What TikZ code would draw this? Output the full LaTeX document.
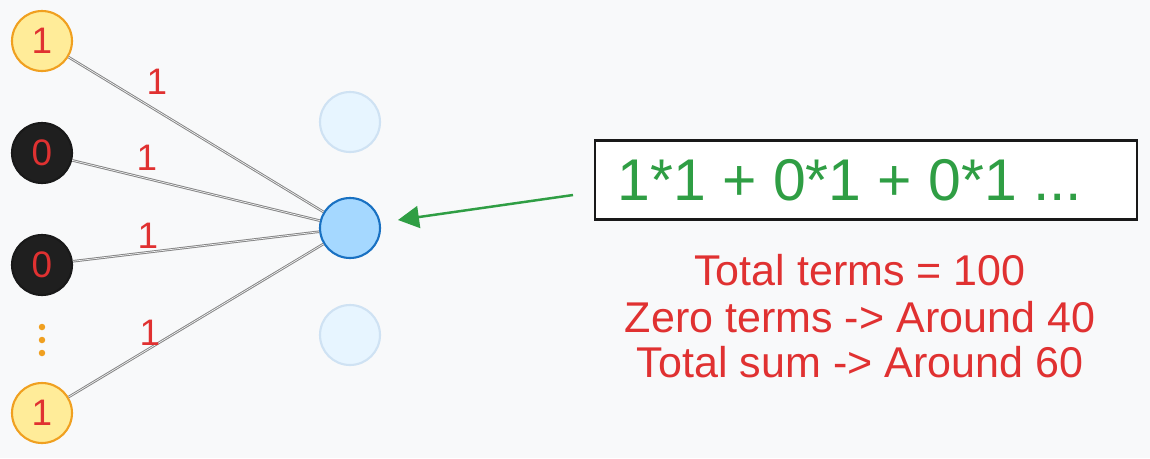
\documentclass[tikz,border=0pt]{standalone}
\usepackage{fontspec}
\setmainfont{Liberation Sans}
\usetikzlibrary{arrows.meta}
\definecolor{bg}{HTML}{F8F9FA}
\definecolor{exred}{HTML}{E03131}
\definecolor{exgreen}{HTML}{2F9E44}
\definecolor{yfill}{HTML}{FFEC99}
\definecolor{ystroke}{HTML}{F0A020}
\definecolor{bfill}{HTML}{A5D8FF}
\definecolor{bstroke}{HTML}{1971C2}
\definecolor{ffill}{HTML}{E7F5FF}
\definecolor{fstroke}{HTML}{CFE2F3}
\definecolor{edgegray}{HTML}{858585}
\begin{document}
\begin{tikzpicture}[x=0.02cm,y=-0.02cm,
  neuron/.style={circle,minimum size=1.2cm,inner sep=0pt,line width=1.2pt,font=\fontsize{21}{21}\selectfont,text=exred},
  onenode/.style={neuron,draw=ystroke,fill=yfill},
  zeronode/.style={neuron,draw=black!90,fill=black!88},
  activenode/.style={neuron,draw=bstroke,fill=bfill},
  faintnode/.style={neuron,draw=fstroke,fill=ffill},
  wire/.style={draw=edgegray,line width=0.55pt,double=bg,double distance=0.35pt},
  wlabel/.style={text=exred,font=\fontsize{21}{21}\selectfont},
  dotstyle/.style={circle,fill=ystroke,inner sep=0pt,minimum size=0.13cm},
  redline/.style={text=exred,font=\fontsize{24.5}{24.5}\selectfont},
]
\fill[bg] (0,0) rectangle (1150,458);
\useasboundingbox (0,0) rectangle (1150,458);

\node[onenode] (i1) at (42,41) {1};
\node[zeronode] (i2) at (42,153) {0};
\node[zeronode] (i3) at (42,265) {0};
\node[onenode] (i4) at (42,413) {1};
\node[dotstyle] (d1) at (42,327) {};
\node[dotstyle] (d2) at (42,340) {};
\node[dotstyle] (d3) at (42,353) {};

\node[faintnode] (f1) at (350,122) {};
\node[activenode] (h) at (350,228) {};
\node[faintnode] (f2) at (350,335) {};

\draw[wire] (i1) -- (h);
\draw[wire] (i2) -- (h);
\draw[wire] (i3) -- (h);
\draw[wire] (i4) -- (h);

\node[wlabel] (l1) at (157,82) {1};
\node[wlabel] (l2) at (147,158) {1};
\node[wlabel] (l3) at (148,236) {1};
\node[wlabel] (l4) at (150,333) {1};

\node[draw=black!90,line width=1.2pt,fill=white,minimum width=10.84cm,minimum height=1.58cm,inner sep=0pt] (box) at (866,180) {};
\node[text=exgreen,font=\fontsize{33.5}{33.5}\selectfont] (eq) at (850,180) {1*1 + 0*1 + 0*1 ...};

\coordinate (as) at (573,195);
\coordinate (ae) at (398,220);
\draw[exgreen,line width=1.4pt,-{Triangle[length=0.42cm,width=0.44cm]}] (as) -- (ae);

\node[redline] (t1) at (860,270) {Total terms = 100};
\node[redline] (t2) at (860,317) {Zero terms -> Around 40};
\node[redline] (t3) at (860,362) {Total sum -> Around 60};
\end{tikzpicture}
\end{document}
